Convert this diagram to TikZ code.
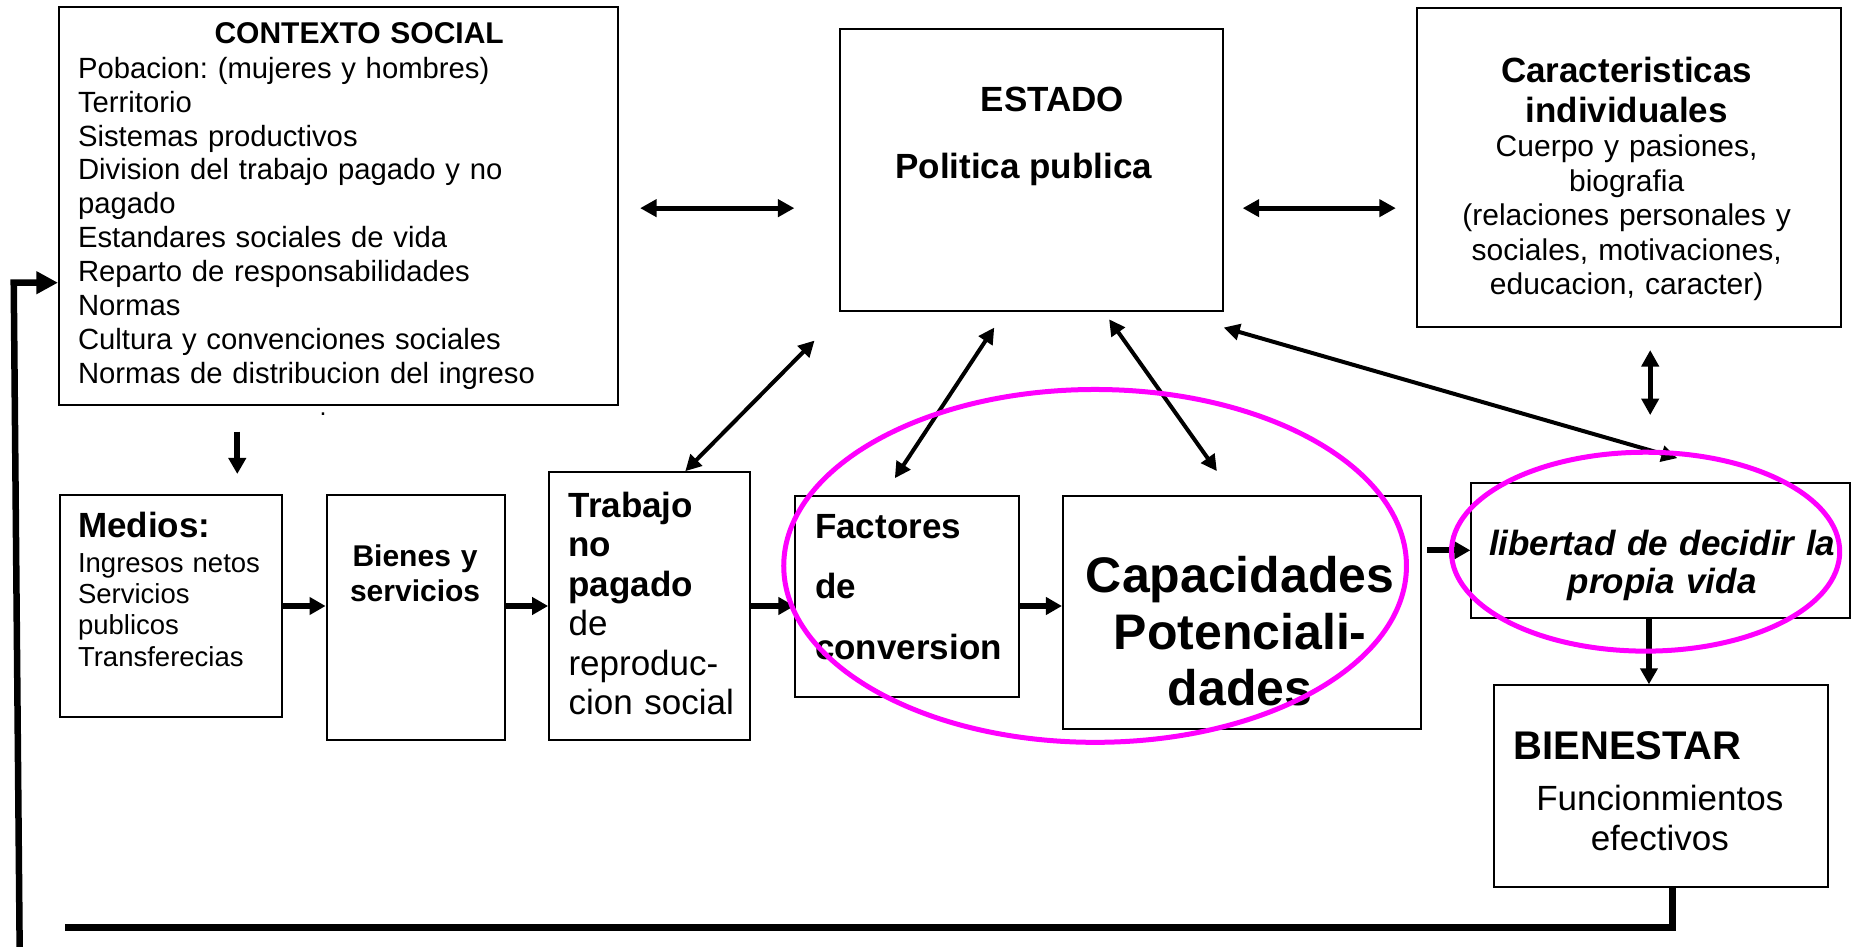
\documentclass[tikz,border=0pt]{standalone}
\usepackage{fontspec}
\setmainfont{Liberation Sans}
\usetikzlibrary{calc,arrows.meta}
\definecolor{ovalMagenta}{RGB}{255,0,255}
\frenchspacing

\begin{document}
\begin{tikzpicture}[
  box/.style={draw,line width=0.8pt,inner sep=0pt,anchor=north west},
  txt/.style={inner sep=0pt},
  dbl/.style={line width=2pt,{Triangle[length=6.6pt,width=6.8pt]}-{Triangle[length=6.6pt,width=6.8pt]}},
  diag/.style={line width=1.6pt,{Triangle[length=6.4pt,width=6.4pt]}-{Triangle[length=6.4pt,width=6.4pt]}},
  flow/.style={line width=2.4pt,-{Triangle[length=6.4pt,width=6.8pt]}},
  loopline/.style={line width=2.8pt},
  oval/.style={draw=ovalMagenta,line width=2pt}
]
\useasboundingbox (0,0) rectangle (26.09,-13.31);

\node[box,minimum width=7.855cm,minimum height=5.592cm] (ctx) at (0.815,-0.083) {};
\node[box,minimum width=5.375cm,minimum height=3.961cm] (estado) at (11.799,-0.399) {};
\node[box,minimum width=5.958cm,minimum height=4.477cm] (carac) at (19.904,-0.100) {};
\node[box,minimum width=3.129cm,minimum height=3.129cm] (medios) at (0.824,-6.940) {};
\node[box,minimum width=2.513cm,minimum height=3.445cm] (bienes) at (4.577,-6.940) {};
\node[box,minimum width=2.829cm,minimum height=3.761cm] (trabajo) at (7.705,-6.624) {};
\node[box,minimum width=3.145cm,minimum height=2.829cm] (factores) at (11.167,-6.956) {};
\node[box,minimum width=5.026cm,minimum height=3.278cm] (capac) at (14.928,-6.956) {};
\node[box,minimum width=5.325cm,minimum height=1.897cm] (libertad) at (20.669,-6.773) {};
\node[box,minimum width=4.693cm,minimum height=2.829cm] (bienestar) at (20.986,-9.619) {};

\node[txt,anchor=north west,text width=200pt,align=left,font=\fontsize{11.7}{13.55}\selectfont] (ctxT) at (1.090,-0.306) {%
\hspace*{54.6pt}{\fontsize{12}{13.55}\selectfont\bfseries CONTEXTO SOCIAL}\\[0.5pt]
Pobacion: (mujeres y hombres)\\
Territorio\\
Sistemas productivos\\
Division del trabajo pagado y no\\
pagado\\
Estandares sociales de vida\\
Reparto de responsabilidades\\
Normas\\
Cultura y convenciones sociales\\
Normas de distribucion del ingreso};
\node[txt,anchor=base] (dot) at (4.543,-5.84) {.};

\node[txt,anchor=base,font=\fontsize{14}{16}\selectfont\bfseries] (estadoT) at (14.795,-1.561) {ESTADO};
\node[txt,anchor=base,font=\fontsize{14}{16}\selectfont\bfseries] (politT) at (14.390,-2.506) {Politica publica};

\node[txt,anchor=north,text width=170pt,align=center,font=\fontsize{12}{13.8}\selectfont] (caracT) at (22.866,-0.799) {%
{\fontsize{14}{15.8}\selectfont\bfseries Caracteristicas\\individuales\par}
Cuerpo y pasiones,\\biografia\\(relaciones personales y\\sociales, motivaciones,\\educacion, caracter)};

\node[txt,anchor=north west,text width=100pt,align=left,font=\fontsize{11}{12.5}\selectfont] (mediosT) at (1.090,-7.189) {%
{\fontsize{14}{16}\selectfont\bfseries Medios:}\\[1.5pt]Ingresos netos\\Servicios\\publicos\\Transferecias};
\node[txt,anchor=north,text width=70pt,align=center,font=\fontsize{12}{13.7}\selectfont\bfseries] (bienesT) at (5.835,-7.655) {Bienes y\\servicios};
\node[txt,anchor=north west,text width=90pt,align=left,font=\fontsize{14}{15.8}\selectfont] (trabajoT) at (7.985,-6.906) {%
\textbf{Trabajo}\\\textbf{no}\\\textbf{pagado}\\de\\reproduc-\\cion social};
\node[txt,anchor=north west,text width=100pt,align=left,font=\fontsize{14}{24.2}\selectfont\bfseries] (factoresT) at (11.450,-7.223) {Factores\\de\\conversion};
\node[txt,anchor=north,text width=150pt,align=center,font=\fontsize{20}{22.6}\selectfont\bfseries] (capacT) at (17.433,-7.813) {Capacidades\\Potenciali-\\dades};
\node[txt,anchor=north,text width=150pt,align=center,font=\fontsize{14}{15.1}\selectfont\bfseries\itshape] (libertadT) at (23.365,-7.449) {libertad de decidir la\\propia vida};
\node[txt,anchor=base west,font=\fontsize{16}{18}\selectfont\bfseries] (bienT) at (21.268,-10.676) {BIENESTAR};
\node[txt,anchor=north,text width=120pt,align=center,font=\fontsize{14}{16}\selectfont] (funcT) at (23.332,-11.024) {Funcionmientos\\efectivos};

\draw[dbl,shorten <=0.30cm,shorten >=0.632cm] ([yshift=-0.033cm]ctx.east) -- ([yshift=-0.033cm]ctx.east -| estado.west);
\draw[dbl,shorten <=0.266cm,shorten >=0.283cm] ([yshift=-0.033cm]ctx.east -| estado.east) -- ([yshift=-0.033cm]ctx.east -| carac.west);
\draw[dbl,shorten <=0.316cm,shorten >=0.938cm] ([xshift=0.30cm]carac.south) -- ([xshift=0.30cm]carac.south |- libertad.north);

\draw[diag] ([shift={(-0.349,-0.399)}]estado.south west) -- ([xshift=0.499cm]trabajo.north);
\draw[diag] ([shift={(-0.524,-0.216)}]estado.south) -- ([shift={(-0.175,0.233)}]factores.north);
\draw[diag] ([shift={(1.090,-0.100)}]estado.south) -- ([shift={(-0.349,0.333)}]capac.north);
\draw[diag] ([yshift=-0.216cm]estado.south east) -- ([shift={(0.233,0.333)}]libertad.north);

\draw[flow,shorten <=0.366cm,shorten >=0.277cm] ([xshift=0.933cm]medios.north |- ctx.south) -- ([xshift=0.933cm]medios.north);
\draw[flow] (medios.east) -- (medios.east -| bienes.west);
\draw[flow] (medios.east -| bienes.east) -- (medios.east -| trabajo.west);
\draw[flow] (medios.east -| trabajo.east) -- (medios.east -| factores.west);
\draw[flow] (medios.east -| factores.east) -- (medios.east -| capac.west);
\draw[flow,shorten <=0.083cm] (libertad.west -| capac.east) -- (libertad.west);
\draw[flow,line width=2.2pt] ([xshift=-0.166cm]libertad.south) -- ([xshift=-0.166cm]libertad.south |- bienestar.north);

\coordinate (loopend) at (0.915,-13.031);
\coordinate (loopfoot) at (0.277,-13.40);
\coordinate (loopturn) at (0.193,-3.974);
\draw[loopline] ([xshift=0.166cm]bienestar.south) |- (loopend);
\draw[loopline,line width=2.6pt,-{Triangle[length=8.6pt,width=8.6pt]}] (loopfoot) -- (loopturn) -- (loopturn -| ctx.west);

\draw[oval] (15.394,-7.955) ellipse [x radius=4.377cm,y radius=2.480cm];
\draw[oval] (23.132,-7.755) ellipse [x radius=2.729cm,y radius=1.398cm];
\end{tikzpicture}
\end{document}
